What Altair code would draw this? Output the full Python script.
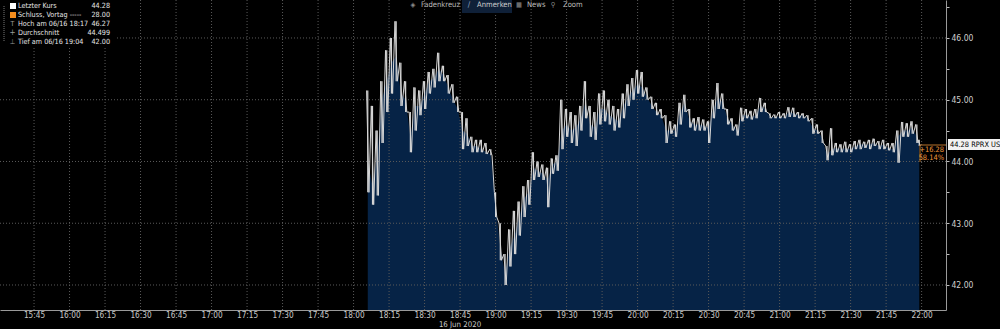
import altair as alt
import pandas as pd

# ---------------- data ----------------
times = ("18:06 18:08 18:10 18:12 18:14 18:16 18:18 18:20 18:22 18:24 18:26 18:28 18:30 18:32 18:34 18:36 "
         "18:38 18:40 18:42 18:44 18:46 18:48 18:50 18:52 18:54 18:56 18:58 19:00 19:02 19:04 19:06 19:08 "
         "19:10 19:12 19:14 19:16 19:18 19:20 19:22 19:24 19:26 19:28 19:30 19:32 19:34 19:36 19:38 19:40 "
         "19:42 19:44 19:46 19:48 19:50 19:52 19:54 19:56 19:58 20:00 20:02 20:04 20:06 20:08 20:10 20:12 "
         "20:14 20:16 20:18 20:20 20:22 20:24 20:26 20:28 20:30 20:32 20:34 20:36 20:38 20:40 20:42 20:44 "
         "20:46 20:48 20:50 20:52 20:54 20:56 20:58 21:00 21:02 21:04 21:06 21:08 21:10 21:12 21:14 21:16 "
         "21:18 21:20 21:22 21:24 21:26 21:28 21:30 21:32 21:34 21:36 21:38 21:40 21:42 21:44 21:46 21:48 "
         "21:50 21:52 21:54 21:56 21:58 21:59").split()

lows = [43.50, 43.30, 43.45, 44.30, 44.80, 45.10, 45.30, 44.90, 44.80, 44.15, 44.50, 44.75, 44.85, 45.10, 45.20, 45.30,
        45.30, 45.10, 44.95, 44.80, 44.20, 44.25, 44.15, 44.15, 44.15, 44.12, 44.10, 43.10, 42.40, 42.00, 42.30, 42.50,
        42.80, 43.10, 43.30, 43.70, 43.75, 43.70, 43.26, 43.80, 43.85, 44.20, 44.40, 44.30, 44.25, 44.50, 44.70, 44.40,
        44.35, 44.60, 44.65, 44.60, 44.50, 44.55, 44.70, 44.90, 45.00, 45.10, 45.05, 45.00, 44.85, 44.75, 44.70, 44.30,
        44.45, 44.40, 44.60, 44.80, 44.55, 44.50, 44.50, 44.50, 44.30, 44.70, 44.85, 44.85, 44.60, 44.50, 44.42, 44.65,
        44.70, 44.68, 44.70, 44.80, 44.80, 44.70, 44.70, 44.70, 44.70, 44.72, 44.72, 44.70, 44.70, 44.65, 44.45, 44.45,
        44.30, 44.02, 44.10, 44.15, 44.15, 44.15, 44.15, 44.20, 44.20, 44.22, 44.20, 44.25, 44.20, 44.20, 44.18, 44.15,
        43.98, 44.40, 44.40, 44.45, 44.30, 44.25]

highs = [45.15, 44.90, 44.50, 45.30, 45.80, 46.00, 46.27, 45.60, 45.30, 44.80, 45.20, 45.15, 45.30, 45.45, 45.50, 45.76,
         45.55, 45.40, 45.25, 45.05, 44.80, 44.70, 44.40, 44.35, 44.35, 44.30, 44.20, 43.50, 43.00, 42.50, 42.90, 43.20,
         43.35, 43.60, 43.70, 44.15, 44.00, 43.95, 43.90, 44.05, 44.10, 45.00, 44.85, 44.80, 44.75, 44.90, 45.30, 44.90,
         44.80, 45.10, 45.15, 45.00, 44.90, 44.85, 45.10, 45.25, 45.35, 45.48, 45.45, 45.20, 45.05, 44.95, 44.85, 44.75,
         44.65, 44.60, 44.95, 45.08, 44.85, 44.70, 44.72, 44.68, 44.65, 45.00, 45.27, 45.10, 44.85, 44.70, 44.60, 44.87,
         44.85, 44.82, 44.85, 45.03, 44.95, 44.78, 44.76, 44.80, 44.78, 44.88, 44.87, 44.80, 44.78, 44.75, 44.70, 44.60,
         44.50, 44.25, 44.54, 44.30, 44.28, 44.32, 44.28, 44.33, 44.35, 44.32, 44.35, 44.37, 44.33, 44.35, 44.30, 44.30,
         44.50, 44.64, 44.62, 44.65, 44.60, 44.35]

closes = [44.00, 43.60, 44.10, 45.00, 45.30, 45.60, 45.70, 45.10, 45.00, 44.40, 44.90, 44.90, 45.10, 45.30, 45.35, 45.50,
          45.40, 45.20, 45.00, 44.85, 44.50, 44.45, 44.25, 44.25, 44.20, 44.15, 44.12, 43.30, 42.60, 42.20, 42.60, 42.80,
          43.10, 43.40, 43.50, 43.90, 43.85, 43.80, 43.70, 43.95, 44.00, 44.50, 44.60, 44.50, 44.55, 44.70, 44.95, 44.60,
          44.55, 44.85, 44.85, 44.75, 44.70, 44.65, 44.90, 45.05, 45.15, 45.25, 45.20, 45.05, 44.90, 44.80, 44.75, 44.50,
          44.50, 44.50, 44.80, 44.95, 44.65, 44.60, 44.60, 44.58, 44.55, 44.85, 45.05, 44.95, 44.70, 44.60, 44.50, 44.75,
          44.75, 44.72, 44.75, 44.90, 44.85, 44.72, 44.72, 44.73, 44.72, 44.80, 44.78, 44.75, 44.74, 44.70, 44.55, 44.50,
          44.38, 44.10, 44.20, 44.22, 44.20, 44.22, 44.20, 44.25, 44.28, 44.27, 44.28, 44.30, 44.25, 44.27, 44.22, 44.20,
          44.40, 44.50, 44.50, 44.55, 44.40, 44.28]

x_tick_labels = ["15:45", "16:00", "16:15", "16:30", "16:45", "17:00", "17:15", "17:30", "17:45", "18:00",
                 "18:15", "18:30", "18:45", "19:00", "19:15", "19:30", "19:45", "20:00", "20:15", "20:30",
                 "20:45", "21:00", "21:15", "21:30", "21:45", "22:00"]
y_ticks = [42, 43, 44, 45, 46]
y_minor = [42.5, 43.5, 44.5, 45.5, 46.5]


def to_min(t):
    h, m = t.split(":")
    return (int(h) - 15) * 60 + int(m)


tmins = [to_min(t) for t in times]
df = pd.DataFrame({"t": tmins, "low": lows, "high": highs, "close": closes})

# zig-zag path through each bar's high and low (same data, drawn as a jagged line)
zz_rows = []
for i, (t, lo, hi) in enumerate(zip(tmins, lows, highs)):
    zz_rows.append({"t": t - 0.5, "v": hi, "o": 2 * i})
    zz_rows.append({"t": t + 0.5, "v": lo, "o": 2 * i + 1})
zz = pd.DataFrame(zz_rows)

xt = pd.DataFrame({"v": [to_min(t) for t in x_tick_labels]})
yt = pd.DataFrame({"v": y_ticks})
one = pd.DataFrame({"k": [0]})

X_DOM = [30.62, 430.3]
Y_DOM = [41.595, 46.615]
xs = alt.Scale(domain=X_DOM, nice=False, zero=False)
ys = alt.Scale(domain=Y_DOM, nice=False, zero=False)

FONT = "Liberation Sans Narrow, DejaVu Sans Condensed, Roboto, Liberation Sans, Arial"
GRID = "#5a5a5a"
AREA = "#062346"
BAR = "#d6d6d6"

label_expr = ("(floor(datum.value/60)+15) + ':' + (datum.value % 60 < 10 ? '0' : '') + (datum.value % 60)")

x_axis = alt.Axis(values=[to_min(t) for t in x_tick_labels], labelExpr=label_expr, title=None,
                  grid=False, ticks=False, domainColor="#9a9a9a", domainWidth=1,
                  labelColor="#c8c8c8", labelFontSize=8.2, labelFont=FONT, labelPadding=1,
                  labelFlush=False, labelOverlap=False, labelBound=False, labelSeparation=0)
y_axis = alt.Axis(orient="right", values=y_ticks + y_minor,
                  labelExpr="datum.value % 1 == 0 ? format(datum.value, '.2f') : ''",
                  title=None, grid=False, tickSize=3, tickColor="#bdbdbd",
                  domainColor="#9a9a9a", domainWidth=1, labelColor="#d0d0d0",
                  labelFontSize=8.5, labelFont=FONT, labelPadding=2, labelFlush=False,
                  labelOverlap=False)

area = alt.Chart(df).mark_area(color=AREA, opacity=1).encode(
    x=alt.X("t:Q", scale=xs, axis=x_axis),
    y=alt.Y("close:Q", scale=ys, axis=y_axis),
    y2=alt.datum(Y_DOM[0]),
)

vgrid = alt.Chart(xt).mark_rule(color=GRID, strokeDash=[1, 2], strokeWidth=1).encode(
    x=alt.X("v:Q", scale=xs, axis=x_axis))
hgrid = alt.Chart(yt).mark_rule(color=GRID, strokeDash=[1, 2], strokeWidth=1).encode(
    y=alt.Y("v:Q", scale=ys, axis=y_axis))

bars = alt.Chart(df).mark_rule(color=BAR, strokeWidth=1.2).encode(
    x=alt.X("t:Q", scale=xs, axis=x_axis), y=alt.Y("low:Q", scale=ys, axis=y_axis), y2="high:Q")

zig = alt.Chart(zz).mark_line(color=BAR, strokeWidth=1, interpolate="linear").encode(
    x=alt.X("t:Q", scale=xs, axis=x_axis), y=alt.Y("v:Q", scale=ys, axis=y_axis), order="o:Q")


def txt(s, x, y, color="#e6e6e6", size=7.2, align="left", weight="normal"):
    return alt.Chart(one).mark_text(text=s, align=align, baseline="middle", color=color,
                                    fontSize=size, font=FONT, fontWeight=weight).encode(
        x=alt.value(x), y=alt.value(y))


def rect(x, x2, y, y2, color):
    return alt.Chart(one).mark_rect(color=color).encode(
        x=alt.value(x), x2=alt.value(x2), y=alt.value(y), y2=alt.value(y2))


layers = [area, vgrid, hgrid, bars, zig]

# legend box (top left)
layers.append(rect(0, 116, 0, 47, "#000000"))
layers.append(alt.Chart(one).mark_rule(color="#777777", strokeDash=[1, 1]).encode(
    x=alt.value(4), y=alt.value(6), y2=alt.value(42)))
layers.append(rect(10, 16, 3, 9, "#ffffff"))
layers.append(rect(10, 16, 12, 18, "#f28c1e"))
leg_rows = [("Letzter Kurs", "44.28", 6), ("Schluss, Vortag -----", "28.00", 15),
            ("Hoch am 06/16 18:17", "46.27", 24), ("Durchschnitt", "44.499", 33),
            ("Tief am 06/16 19:04", "42.00", 42)]
for label, val, yy in leg_rows:
    layers.append(txt(label, 18, yy))
    layers.append(txt(val, 110, yy, align="right"))
layers.append(txt("T", 12.5, 24, color="#9a9a9a", size=7, align="center"))
layers.append(txt("+", 12.5, 33, color="#9a9a9a", size=8, align="center"))
layers.append(txt("⊥", 12.5, 42, color="#9a9a9a", size=7, align="center"))

# toolbar
layers.append(rect(462, 512, 0, 13, "#0f2038"))
layers.append(txt("◈", 413, 4.5, color="#8a8a8a", size=7, align="center"))
layers.append(txt("Fadenkreuz", 421, 4.5, color="#bdbdbd", size=7.6))
layers.append(txt("∕", 469, 4.5, color="#9aa8c0", size=8, align="center"))
layers.append(txt("Anmerken", 477, 4.5, color="#d0d0d0", size=7.6))
layers.append(txt("▦", 519, 4.5, color="#8a8a8a", size=7, align="center"))
layers.append(txt("News", 527, 4.5, color="#bdbdbd", size=7.6))
layers.append(txt("⚲", 553, 4.5, color="#8a8a8a", size=7, align="center"))
layers.append(txt("Zoom", 563, 4.5, color="#bdbdbd", size=7.6))

# right-side tags
layers.append(rect(948, 1000, 139, 150, "#f2f2f2"))
layers.append(txt("44.28 RPRX US", 950, 144.5, color="#000000", size=7.4))
layers.append(alt.Chart(one).mark_rule(color="#b8732a", strokeWidth=1).encode(
    x=alt.value(920), x2=alt.value(946), y=alt.value(145)))
layers.append(alt.Chart(one).mark_rule(color="#b8732a", strokeWidth=1).encode(
    x=alt.value(920), y=alt.value(145), y2=alt.value(162)))
layers.append(txt("+16.28", 944, 150, color="#f0973a", size=7.4, align="right"))
layers.append(txt("58.14%", 944, 158, color="#f0973a", size=7.4, align="right"))

# date label
layers.append(txt("16 Jun 2020", 460, 325, color="#c8c8c8", size=7.8, align="center"))

chart = alt.layer(*layers).properties(
    width=946, height=310,
    autosize=alt.AutoSizeParams(type="none"),
    padding={"left": 0, "top": 0, "right": 54, "bottom": 19},
    background="#000000",
).configure_view(stroke=None).configure_axisX(labelOverlap=False)

chart.save("out.html", embed_options={"renderer": "svg", "actions": False})
